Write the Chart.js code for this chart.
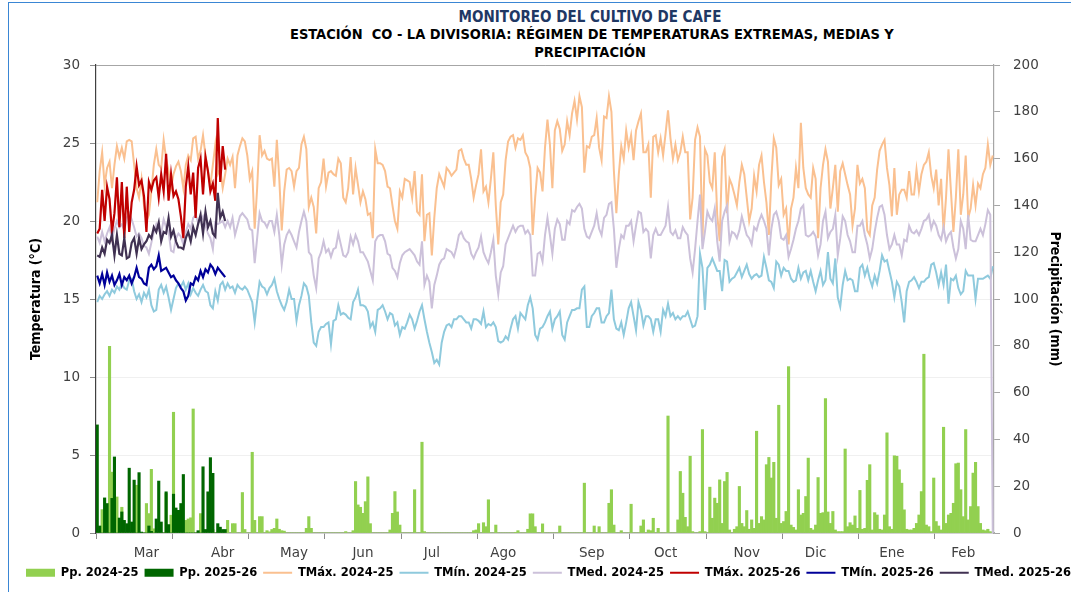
<!DOCTYPE html>
<html>
<head>
<meta charset="utf-8">
<script src="https://cdn.jsdelivr.net/npm/chart.js@4.4.1/dist/chart.umd.min.js"></script>
<style>
  html, body { margin: 0; padding: 0; background: #fff; overflow: hidden; }
  #wrap { position: relative; width: 1071px; height: 592px; overflow: hidden; }
  #marco { position: absolute; left: 8px; top: 2px; width: 1120px; height: 640px; border: 1.5px solid #3a86d4; }
  .titulo { position: absolute; left: 290px; width: 600px; text-align: center; white-space: pre;
    font-family: "Liberation Sans Narrow", "DejaVu Sans Condensed", "Liberation Sans", sans-serif; font-weight: bold; }
  #t1 { top: 8px; font-size: 15px; line-height: 18px; color: #1f3864; }
  #t2 { top: 26px; font-size: 14.5px; line-height: 17px; color: #000; }
  #t3 { top: 44px; font-size: 14.5px; line-height: 17px; color: #000; }
  canvas { position: absolute; left: 0; top: 0; }
</style>
</head>
<body>
<div id="wrap">
  <div id="marco"></div>
  <div class="titulo" id="t1">MONITOREO DEL CULTIVO DE CAFE</div>
  <div class="titulo" id="t2">ESTACIÓN  CO - LA DIVISORIA: RÉGIMEN DE TEMPERATURAS EXTREMAS, MEDIAS Y</div>
  <div class="titulo" id="t3">PRECIPITACIÓN</div>
  <canvas id="grafico" width="1110" height="592"></canvas>
</div>
<script>
// meses del eje x y la fila (dia) donde va cada etiqueta
const MESES = ["Mar", "Abr", "May", "Jun", "Jul", "Ago", "Sep", "Oct", "Nov", "Dic", "Ene", "Feb"];
const DIA_ETIQUETA = [20, 51, 80, 108, 136, 165, 201, 231, 264, 292, 323, 352];
const N_DIAS = 365;

// temperaturas diarias 2024-25 (°C), desde el 1 de marzo
const TMAX_2425 = [
  21.2, 23.2, 24.4, 22.3, 23.4, 23.8, 22.1, 23.6, 24.8, 24.1,
  24.7, 24.0, 25.1, 25.2, 25.1, 23.6, 22.1, 21.5, 22.7, 21.0,
  20.0, 20.4, 21.9, 23.6, 24.6, 23.6, 23.4, 25.2, 24.0, 23.2,
  22.1, 23.0, 23.5, 23.8, 23.2, 22.1, 23.6, 24.2, 23.9, 25.3,
  25.4, 24.0, 24.5, 25.5, 24.2, 23.2, 22.3, 23.6, 24.9, 23.0,
  23.3, 22.1, 23.0, 24.0, 23.6, 24.1, 22.1, 24.2, 24.8, 25.3,
  25.1, 24.2, 22.7, 23.2, 19.5, 22.1, 25.5, 24.2, 24.5, 24.0,
  23.9, 24.0, 22.2, 25.2, 22.7, 19.4, 21.9, 23.3, 23.4, 23.2,
  22.2, 23.2, 23.4, 24.9, 25.4, 24.6, 20.9, 21.5, 20.9, 19.2,
  22.1, 22.5, 24.0, 22.2, 23.1, 23.2, 23.0, 22.9, 24.0, 23.7,
  21.5, 21.2, 22.1, 24.1, 21.7, 23.4, 22.3, 21.2, 21.9, 21.4,
  20.4, 20.5, 18.9, 24.6, 23.7, 23.7, 23.6, 23.2, 22.2, 22.1,
  21.0, 20.0, 19.5, 21.9, 21.5, 22.7, 22.6, 22.5, 21.5, 23.2,
  20.6, 20.4, 23.0, 18.7, 20.4, 20.5, 17.8, 20.2, 22.1, 23.0,
  22.6, 22.2, 23.4, 23.2, 22.9, 23.1, 23.3, 24.5, 24.6, 24.0,
  23.6, 23.6, 22.7, 21.5, 22.3, 23.0, 24.6, 21.9, 22.2, 21.2,
  22.7, 24.4, 21.0, 18.5, 21.2, 21.7, 23.9, 25.1, 25.4, 25.5,
  24.7, 25.3, 25.2, 25.5, 24.4, 24.1, 23.4, 19.1, 21.5, 23.4,
  23.1, 21.9, 24.7, 26.5, 24.9, 22.1, 25.8, 26.4, 25.9, 24.5,
  24.9, 26.4, 25.5, 26.9, 27.7, 26.5, 28.0, 27.3, 23.1, 24.8,
  24.7, 25.4, 25.5, 26.6, 24.7, 23.9, 26.7, 26.6, 28.0, 27.0,
  23.2, 20.5, 23.0, 24.8, 24.0, 25.8, 24.7, 25.5, 23.9, 25.8,
  26.4, 26.9, 24.4, 24.4, 24.9, 21.5, 25.4, 25.5, 24.4, 25.3,
  24.2, 25.6, 27.1, 25.3, 24.0, 24.9, 23.9, 24.4, 25.4, 24.4,
  24.4, 20.1, 21.5, 25.2, 26.0, 25.4, 18.7, 24.6, 24.2, 22.5,
  22.1, 24.4, 20.4, 18.7, 24.1, 24.6, 20.5, 22.7, 22.3, 21.7,
  21.0, 22.5, 23.6, 23.0, 21.5, 20.0, 20.8, 22.9, 21.9, 23.6,
  24.2, 22.5, 21.2, 19.1, 22.7, 25.3, 24.7, 22.3, 22.7, 20.4,
  20.8, 18.5, 20.8, 21.5, 23.4, 22.1, 26.3, 23.4, 22.1, 21.7,
  21.5, 23.4, 22.7, 18.9, 22.1, 23.6, 24.6, 23.8, 20.8, 22.1,
  23.6, 20.6, 23.2, 23.7, 23.0, 22.3, 21.7, 19.7, 20.8, 23.6,
  22.4, 22.7, 22.1, 19.4, 19.1, 21.0, 21.5, 23.3, 24.5, 24.9,
  25.2, 23.4, 22.3, 20.3, 23.4, 20.4, 21.7, 22.0, 22.0, 21.5,
  23.2, 21.7, 21.7, 23.3, 21.9, 23.0, 23.6, 23.8, 24.4, 22.9,
  22.1, 23.3, 21.0, 22.7, 19.3, 21.5, 24.6, 21.9, 19.3, 21.5,
  24.6, 20.4, 21.7, 24.2, 20.2, 20.8, 22.3, 21.0, 22.4, 22.1,
  23.0, 23.4, 24.9, 23.6, 24.2,
];
const TMIN_2425 = [
  14.8, 15.2, 15.0, 15.3, 15.5, 15.2, 15.6, 15.4, 15.8, 15.6,
  16.0, 15.7, 15.6, 16.2, 16.3, 15.5, 15.0, 15.3, 14.8, 15.4,
  15.1, 15.6, 14.6, 14.2, 14.3, 15.6, 15.9, 15.4, 15.8, 15.1,
  14.3, 15.0, 15.7, 16.0, 15.8, 16.1, 15.6, 16.0, 15.3, 15.7,
  15.4, 15.2, 15.6, 15.9, 15.5, 15.4, 14.6, 14.4, 15.5, 14.9,
  15.9, 16.1, 15.6, 16.0, 15.7, 15.8, 15.4, 15.9, 15.7, 15.6,
  15.8, 15.6, 15.2, 14.8, 13.5, 14.9, 16.1, 15.8, 15.7, 15.3,
  15.7, 15.9, 16.3, 15.5, 15.0, 14.6, 14.3, 14.8, 15.6, 15.0,
  15.0, 13.6, 14.6, 15.2, 16.0, 15.8, 15.2, 13.5, 12.2, 12.0,
  12.9, 13.2, 13.2, 13.4, 13.5, 12.1, 13.6, 13.7, 14.6, 14.0,
  14.1, 14.0, 13.8, 13.7, 14.8, 15.1, 15.6, 14.6, 14.6, 14.5,
  14.2, 13.2, 13.5, 12.9, 14.3, 14.4, 14.6, 14.2, 13.7, 14.1,
  14.0, 13.3, 13.5, 12.7, 13.2, 13.1, 13.5, 14.0, 13.7, 13.1,
  13.6, 14.2, 14.6, 13.7, 12.9, 12.2, 11.6, 10.9, 11.1, 10.8,
  12.2, 12.9, 13.3, 13.4, 13.2, 13.7, 13.7, 13.9, 13.9, 13.7,
  13.5, 13.5, 13.1, 13.7, 13.7, 13.6, 13.4, 14.2, 13.2, 13.4,
  13.3, 13.5, 13.2, 12.3, 12.2, 12.3, 12.6, 12.4, 13.1, 13.7,
  13.9, 13.1, 14.1, 13.9, 13.7, 14.6, 15.1, 14.4, 12.7, 12.4,
  13.1, 13.2, 13.5, 13.9, 14.2, 13.1, 13.7, 13.9, 14.2, 12.7,
  12.4, 13.5, 13.9, 14.3, 14.3, 14.4, 14.4, 15.6, 15.8, 13.2,
  13.2, 13.9, 14.1, 14.4, 14.4, 13.5, 13.5, 13.9, 14.1, 15.6,
  13.7, 13.1, 13.0, 13.5, 12.7, 13.5, 14.4, 14.8, 13.9, 13.0,
  14.8, 14.3, 13.3, 13.9, 13.9, 13.7, 12.9, 13.7, 13.7, 12.9,
  14.3, 13.9, 14.7, 13.9, 14.1, 13.7, 13.9, 13.7, 13.9, 13.9,
  14.2, 13.7, 13.2, 13.3, 13.9, 17.9, 17.0, 14.3, 17.0, 17.2,
  17.6, 17.2, 16.8, 16.8, 15.5, 17.5, 17.4, 16.1, 16.3, 16.4,
  16.7, 17.0, 16.4, 16.8, 17.2, 16.6, 16.3, 16.5, 16.6, 16.4,
  16.5, 17.7, 17.0, 16.2, 16.1, 15.7, 17.4, 17.2, 16.5, 17.0,
  16.8, 16.8, 16.3, 16.1, 16.2, 17.0, 16.3, 16.7, 16.8, 16.2,
  16.8, 16.1, 15.5, 16.2, 16.8, 15.9, 16.2, 18.0, 16.3, 16.0,
  17.6, 15.1, 14.5, 15.9, 16.8, 16.2, 16.3, 16.2, 15.5, 15.5,
  17.0, 17.2, 16.5, 17.0, 16.3, 15.8, 16.5, 16.0, 16.8, 17.8,
  17.4, 17.5, 16.8, 16.1, 15.1, 16.1, 15.8, 14.8, 13.5, 15.5,
  16.1, 16.2, 16.4, 16.1, 15.7, 16.1, 16.1, 16.3, 16.4, 17.2,
  17.3, 16.7, 15.9, 16.7, 15.9, 17.2, 14.7, 16.3, 16.2, 16.5,
  15.7, 15.3, 15.5, 16.8, 16.5, 16.5, 16.5, 15.0, 16.3, 16.3,
  16.3, 16.4, 16.5, 16.3, 17.1,
];
const TMED_2425 = [
  19.0, 18.6, 19.3, 18.7, 19.2, 19.6, 18.8, 19.5, 20.0, 19.6,
  19.8, 19.4, 20.2, 20.5, 20.1, 19.6, 19.0, 19.2, 18.9, 18.4,
  18.3, 17.9, 18.6, 19.3, 19.8, 19.4, 19.2, 20.1, 19.6, 19.3,
  18.1, 18.0, 18.9, 19.2, 19.0, 18.5, 19.3, 19.8, 19.5, 20.2,
  20.4, 19.9, 20.0, 20.3, 19.7, 19.2, 18.9, 18.2, 19.9, 19.8,
  19.9, 20.0, 19.6, 20.0, 19.6, 20.2, 19.1, 19.7, 20.3, 20.5,
  20.3, 20.1, 19.5, 19.4, 17.3, 18.9, 20.5, 20.0, 19.9, 19.6,
  20.0, 20.0, 19.3, 20.4, 19.1, 17.2, 18.5, 19.1, 19.4, 19.1,
  18.7, 18.3, 19.3, 20.0, 20.6, 20.0, 18.0, 17.8, 16.5, 15.7,
  17.6, 18.0, 18.7, 18.0, 18.2, 17.7, 18.2, 18.3, 19.2, 18.5,
  17.8, 17.7, 18.0, 19.0, 18.5, 19.1, 18.7, 18.0, 18.0, 17.7,
  17.4, 16.8, 16.2, 18.7, 19.0, 19.1, 19.1, 18.7, 17.9, 17.8,
  17.0, 16.8, 16.4, 17.3, 17.8, 18.0, 18.1, 18.2, 18.0, 17.8,
  17.4, 17.2, 18.7, 15.9, 16.5, 16.1, 14.4, 15.9, 16.5, 17.2,
  17.5, 17.6, 18.2, 18.1, 18.0, 17.7, 18.3, 19.1, 19.3, 18.9,
  18.7, 18.6, 17.9, 17.6, 18.0, 18.3, 19.0, 18.0, 17.6, 17.3,
  18.0, 18.8, 16.5, 15.3, 16.7, 17.1, 18.5, 18.9, 19.3, 19.7,
  19.3, 19.6, 19.7, 19.7, 19.2, 19.4, 19.1, 16.5, 16.5, 17.9,
  18.0, 17.4, 19.1, 20.2, 19.1, 17.9, 19.5, 20.1, 19.8, 18.8,
  18.8, 20.0, 19.8, 20.7, 20.6, 20.9, 21.1, 20.8, 19.5, 19.0,
  18.9, 19.3, 19.7, 20.5, 19.5, 19.1, 20.2, 20.4, 21.1, 21.2,
  19.5, 17.0, 18.2, 19.1, 18.9, 19.7, 19.7, 20.0, 18.7, 19.7,
  20.6, 20.5, 19.3, 19.5, 19.3, 17.6, 19.1, 19.5, 19.1, 19.1,
  19.4, 19.7, 20.9, 19.3, 19.1, 19.4, 18.9, 18.9, 19.6, 19.3,
  19.1, 17.6, 16.7, 18.2, 20.0, 21.7, 18.2, 19.3, 20.6, 20.2,
  20.0, 20.8, 18.7, 17.4, 20.0, 20.6, 21.0, 18.7, 19.3, 19.2,
  18.9, 19.4, 20.3, 19.7, 19.1, 18.9, 18.5, 19.6, 19.4, 20.0,
  20.4, 20.0, 19.5, 17.8, 19.5, 20.4, 20.6, 20.0, 18.9, 18.8,
  19.1, 17.7, 18.2, 18.8, 19.5, 20.0, 20.8, 21.0, 19.1, 19.0,
  19.1, 19.3, 19.0, 17.8, 18.5, 20.0, 20.6, 18.9, 19.3, 19.5,
  20.4, 17.8, 18.9, 20.3, 20.0, 19.1, 18.7, 18.0, 18.0, 19.7,
  19.7, 20.0, 19.1, 18.5, 17.6, 18.2, 19.3, 20.2, 20.9, 21.0,
  20.4, 19.1, 18.2, 18.5, 19.1, 18.5, 18.5, 17.8, 18.8, 18.7,
  19.7, 19.3, 19.2, 19.4, 19.1, 19.5, 20.0, 20.1, 20.4, 19.5,
  20.0, 19.7, 19.1, 18.8, 19.6, 18.7, 19.1, 19.3, 18.3, 17.6,
  18.2, 20.0, 19.5, 18.2, 20.4, 18.8, 18.7, 18.7, 19.1, 19.5,
  19.1, 19.8, 20.7, 20.4, 0,
];

// temperaturas diarias 2025-26 (°C), hasta fines de abril
const TMAX_2526 = [
  19.2, 19.5, 22.0, 20.0, 22.2, 21.4, 19.3, 20.5, 22.8, 19.6,
  22.5, 18.9, 22.2, 19.3, 21.2, 22.0, 23.5, 22.3, 22.6, 21.6,
  19.3, 22.5, 22.0, 22.6, 22.8, 21.5, 23.0, 21.9, 24.3, 21.3,
  23.0, 21.6, 21.9, 21.4, 20.3, 18.9, 22.2, 23.5, 21.7, 23.1,
  20.2, 23.4, 24.0, 21.7, 24.1, 23.2, 21.9, 22.4, 21.3, 26.6,
  22.5, 24.8, 23.3,
];
const TMIN_2526 = [
  16.5, 16.0, 16.6, 15.9, 16.7, 16.1, 16.5, 15.9, 16.2, 16.6,
  15.9, 16.4, 16.2, 16.5, 16.0, 16.4, 17.0, 16.4, 16.3, 16.0,
  15.9, 17.0, 17.2, 16.9, 17.1, 17.8, 16.8, 16.9, 17.0, 16.7,
  16.4, 16.5, 16.2, 16.0, 15.7, 15.5, 14.9, 15.2, 16.0, 15.9,
  16.4, 16.2, 16.8, 16.4, 16.9, 16.7, 17.2, 17.0, 16.6, 17.0,
  16.8, 16.6, 16.4,
];
const TMED_2526 = [
  17.8, 17.7, 18.3, 17.9, 18.8, 18.6, 19.1, 17.8, 19.1, 17.9,
  17.8, 18.9, 17.6, 17.7, 18.6, 18.9, 17.9, 18.9, 18.2, 18.5,
  18.7, 19.1, 18.9, 19.6, 19.3, 19.9, 18.7, 19.3, 19.2, 20.2,
  19.0, 19.4, 18.7, 18.3, 18.3, 18.2, 18.9, 19.3, 18.7, 19.6,
  19.1, 19.8, 20.4, 19.2, 20.6, 19.6, 20.0, 19.2, 19.0, 21.8,
  20.2, 20.6, 20.0,
];

// precipitacion diaria (mm)
const PP_2425 = [
  0, 0, 10, 0, 0, 79.8, 26, 0, 15.4, 0,
  11, 0, 0, 0, 0, 0, 20.4, 0, 0, 0,
  12.6, 8.3, 27.2, 1.8, 0, 0, 0, 0, 16.9, 0,
  7.6, 51.6, 0, 0, 0, 0, 5.4, 6, 6.5, 53,
  0, 0, 8.3, 0, 0, 0, 0, 1.5, 0, 0,
  0, 0, 0, 5.4, 0, 4, 4, 0, 0, 17.3,
  1.5, 0, 0, 34.5, 5.4, 0, 7, 7, 0, 1,
  0.5, 1.5, 2, 6, 1.6, 1, 0.8, 0, 0, 0,
  0, 0, 0, 0, 0, 2, 7, 2, 0, 0,
  0, 0, 0, 0, 0, 0, 0, 0, 0, 0,
  0, 0.6, 0, 0, 1, 22, 12, 11, 8.4, 13.4,
  24, 4, 0, 0, 0, 0, 0, 0, 0, 1.3,
  8.4, 17.7, 9, 3.4, 0, 0, 0, 0, 0, 18.5,
  0, 0, 38.8, 0.6, 0, 0, 0, 0, 0, 0,
  0, 0, 0, 0, 0, 0, 0, 0, 0, 0,
  0, 0, 0, 1, 1.3, 4, 0, 4.4, 2.7, 14.2,
  0, 0, 3.4, 0, 0, 0, 0, 0, 0, 0,
  0.3, 1, 0, 0, 0, 1.6, 8.2, 8.2, 2.7, 0,
  0, 3.9, 0, 0, 0, 0, 0, 0, 3, 0,
  0, 0, 0, 0, 0, 0, 0, 0, 21.3, 0,
  0, 0, 3, 0, 2.7, 0, 0, 0, 12.7, 18.5,
  3.4, 0, 0, 1, 0, 0, 0, 12.3, 0, 0,
  0, 3, 5.6, 0, 1.3, 1, 6.3, 0, 2, 0,
  0, 0, 50, 0, 0, 0, 5.6, 26.3, 17, 6.7,
  2.7, 32.8, 0.6, 0, 0, 0.6, 44.2, 0.6, 0, 19.6,
  6.3, 14.9, 12.7, 22.7, 4.1, 22, 25.9, 1.3, 0, 1.6,
  2.7, 19.9, 4.1, 2.7, 9.6, 1.6, 5.6, 2, 43.5, 4.1,
  7, 5.6, 29.2, 32.3, 23.5, 30.2, 6.3, 54.6, 4.1, 4.9,
  9.2, 71.1, 3.4, 2.4, 1.3, 18.5, 7.7, 8.4, 15.6, 32,
  2, 1.3, 3.4, 23.7, 8.4, 8.7, 57.4, 9, 4.1, 9.2,
  1.3, 0.6, 0.6, 0.6, 35.9, 2.7, 4.4, 3.4, 7.3, 2,
  18.2, 1.6, 2, 22.5, 29.2, 1.3, 8.7, 7.7, 1.6, 1.3,
  7.7, 42.8, 2.7, 1.6, 33, 32.8, 27, 21.3, 9.9, 1.6,
  1.3, 1.3, 2, 4.1, 7.7, 17.7, 76.4, 3.4, 2.7, 0.6,
  23.5, 4.9, 3, 1.3, 45.2, 4.1, 7.7, 8.4, 12.7, 29.6,
  29.9, 18.5, 7, 44.2, 5.6, 11.3, 25.6, 30.2, 11.3, 4.1,
  1.3, 1, 1.6, 0.6, 0,
];
const PP_2526 = [
  46.2, 3, 0, 15, 12.6, 0, 14.8, 32.5, 0, 6.4,
  9, 5.4, 4, 27.7, 4.7, 22.6, 0, 25.8, 0.4, 0,
  0, 3, 0.7, 0, 6, 22.2, 4.7, 0, 17.6, 3.6,
  0, 16.6, 10.7, 9.7, 12.6, 25, 0, 0, 0, 0,
  0, 1, 0, 28.3, 1.5, 17.6, 32.2, 25.5, 0, 4,
  2.5, 1.5, 1.5,
];

const FUENTE_TICK = { family: "DejaVu Sans", size: 13.5 };
const FUENTE_TITULO_EJE = { family: "Liberation Sans Narrow, DejaVu Sans Condensed, sans-serif", size: 14, weight: "bold" };

function barras(label, values, color, order) {
  return {
    type: "bar", label, data: values, yAxisID: "yP", order,
    backgroundColor: color, borderWidth: 0, grouped: false,
    barPercentage: 1, categoryPercentage: 1,
  };
}

function linea(label, values, color, order, width = 2) {
  return {
    type: "line", label, data: values, yAxisID: "yT", order,
    borderColor: color, backgroundColor: color, borderWidth: width,
    pointRadius: 0, pointHoverRadius: 0, tension: 0, fill: false,
  };
}

const dias = Array.from({ length: N_DIAS }, (_, i) => String(i + 1));

new Chart(document.getElementById("grafico"), {
  data: {
    labels: dias,
    datasets: [
      barras("Pp. 2024-25", PP_2425, "#92d050", 8),
      barras("Pp. 2025-26", PP_2526, "#006600", 7),
      linea("TMáx. 2024-25", TMAX_2425, "#fac090", 6),
      linea("TMín. 2024-25", TMIN_2425, "#8fcadd", 5),
      linea("TMed. 2024-25", TMED_2425, "#ccc1da", 4),
      linea("TMáx. 2025-26", TMAX_2526, "#c00000", 3, 2.2),
      linea("TMín. 2025-26", TMIN_2526, "#000099", 2, 2.2),
      linea("TMed. 2025-26", TMED_2526, "#403152", 1, 2.2),
    ],
  },
  options: {
    responsive: false,
    animation: false,
    devicePixelRatio: 1,
    layout: { padding: { left: 20, right: 0, top: 65, bottom: 3.5 } },
    plugins: {
      tooltip: { enabled: false },
      legend: {
        position: "bottom",
        align: "start",
        labels: {
          usePointStyle: true,
          pointStyleWidth: 29,
          boxHeight: 8,
          padding: 6,
          color: "#000",
          font: { family: "DejaVu Sans", size: 11.5, weight: "bold" },
          sort: (a, b) => a.datasetIndex - b.datasetIndex,
          generateLabels(chart) {
            const items = Chart.defaults.plugins.legend.labels.generateLabels(chart);
            return items.map((item) => {
              const ds = chart.data.datasets[item.datasetIndex];
              if (ds.type === "bar") {
                item.pointStyle = "rect";
                item.fillStyle = ds.backgroundColor;
                item.lineWidth = 0;
              } else {
                item.pointStyle = "line";
                item.strokeStyle = ds.borderColor;
                item.lineWidth = 2;
              }
              return item;
            });
          },
        },
      },
    },
    scales: {
      x: {
        type: "category",
        offset: true,
        grid: {
          offset: true,
          drawOnChartArea: false,
          tickLength: 6,
          color: (ctx) => (ctx.index % 31 === 0 ? "#8c8c8c" : "rgba(0,0,0,0)"),
        },
        border: { color: "#a6a6a6", width: 1.5 },
        ticks: {
          autoSkip: false,
          maxRotation: 0,
          minRotation: 0,
          padding: 6,
          color: "#404040",
          font: FUENTE_TICK,
          callback: (value, index) => {
            const k = DIA_ETIQUETA.indexOf(index);
            return k >= 0 ? MESES[k] : "";
          },
        },
        afterFit: (scale) => { scale.height = 28; },
      },
      yT: {
        position: "left",
        min: 0,
        max: 30,
        ticks: { stepSize: 5, padding: 10, color: "#404040", font: FUENTE_TICK },
        grid: {
          tickLength: 6,
          tickColor: "#8c8c8c",
          color: (ctx) => (ctx.tick.value === 30 ? "#a6a6a6" : ctx.tick.value === 0 ? "rgba(0,0,0,0)" : "#f0f0f0"),
        },
        border: { color: "#404040", width: 1.2 },
        title: { display: true, text: "Temperatura (°C)", color: "#000", font: FUENTE_TITULO_EJE, padding: { top: 7.6, bottom: 0 } },
        afterFit: (scale) => { scale.width = 76; },
      },
      yP: {
        position: "right",
        min: 0,
        max: 200,
        ticks: { stepSize: 20, padding: 13, color: "#404040", font: FUENTE_TICK },
        grid: { drawOnChartArea: false, tickLength: 6, color: "#a6a6a6" },
        border: { color: "#a6a6a6", width: 1.2 },
        title: { display: true, text: "Precipitación (mm)", color: "#000", font: FUENTE_TITULO_EJE, padding: { top: 46.6, bottom: 0 } },
        afterFit: (scale) => { scale.width = 116; },
      },
    },
  },
});
</script>
</body>
</html>
